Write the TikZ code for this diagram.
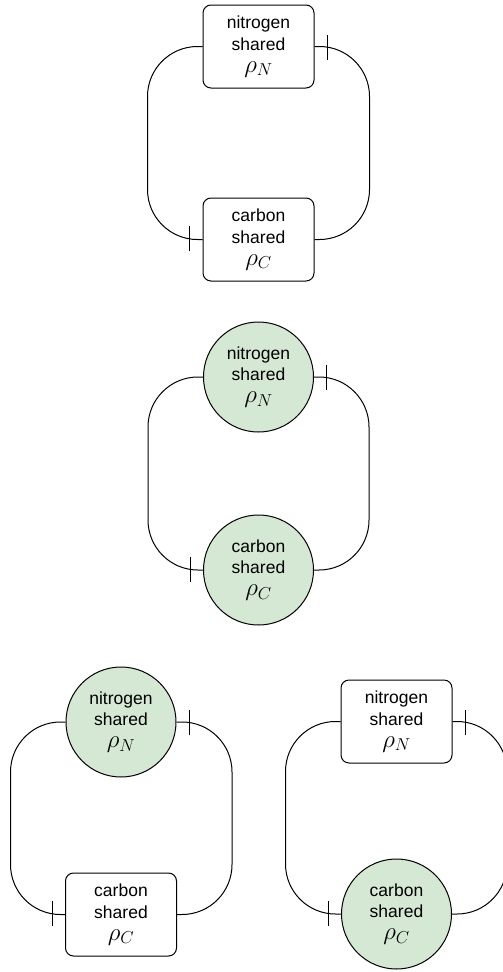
\documentclass[tikz,border=0pt]{standalone}
\usepackage{fontspec}
\setmainfont{Liberation Sans}
\usepackage{xcolor}
\usepackage{tikz}
\usetikzlibrary{decorations.markings}
\definecolor{sharedgreen}{HTML}{D5E8D4}
\newcommand{\rholine}[1]{{\fontsize{24}{21.7}\selectfont$\rho_{#1}$}}
\tikzset{
  pool/.style={draw=black, line width=1pt, fill=white, rounded corners=8pt,
    minimum width=111pt, minimum height=83pt, inner sep=0pt, align=center,
    font=\fontsize{17.5}{21.7}\selectfont},
  poolon/.style={pool, circle, fill=sharedgreen, minimum size=110pt},
  loopline/.style={line width=1pt, rounded corners=50pt},
  tee/.style={postaction={decorate}, decoration={markings,
    mark=at position -13pt with {\pgftransformresetnontranslations
      \draw[line width=1pt] (0pt,-12.5pt) -- (0pt,12.5pt);}}}
}

\begin{document}
\begin{tikzpicture}[x=1pt,y=-1pt]
\useasboundingbox (0,0) rectangle (503,972);
% top: both boxes
\node[pool] (n1) at (258.5,46.5) {nitrogen\\shared\\\rholine{N}};
\node[pool] (c1) at (258.5,239.5) {carbon\\shared\\\rholine{C}};
% middle: both circles
\node[poolon] (n2) at (258.5,377) {nitrogen\\shared\\\rholine{N}};
\node[poolon] (c2) at (258.5,570) {carbon\\shared\\\rholine{C}};
% bottom left
\node[poolon] (n3) at (121,722) {nitrogen\\shared\\\rholine{N}};
\node[pool] (c3) at (121,914.5) {carbon\\shared\\\rholine{C}};
% bottom right
\node[pool] (n4) at (396.5,721.5) {nitrogen\\shared\\\rholine{N}};
\node[poolon] (c4) at (396.5,914) {carbon\\shared\\\rholine{C}};
\foreach \k in {1,...,4}{
  \draw[loopline,tee] (n\k.west) -- ++(-55,0) |- (c\k.west);
  \draw[loopline,tee] (c\k.east) -- ++(55,0) |- (n\k.east);
}
\end{tikzpicture}
\end{document}
